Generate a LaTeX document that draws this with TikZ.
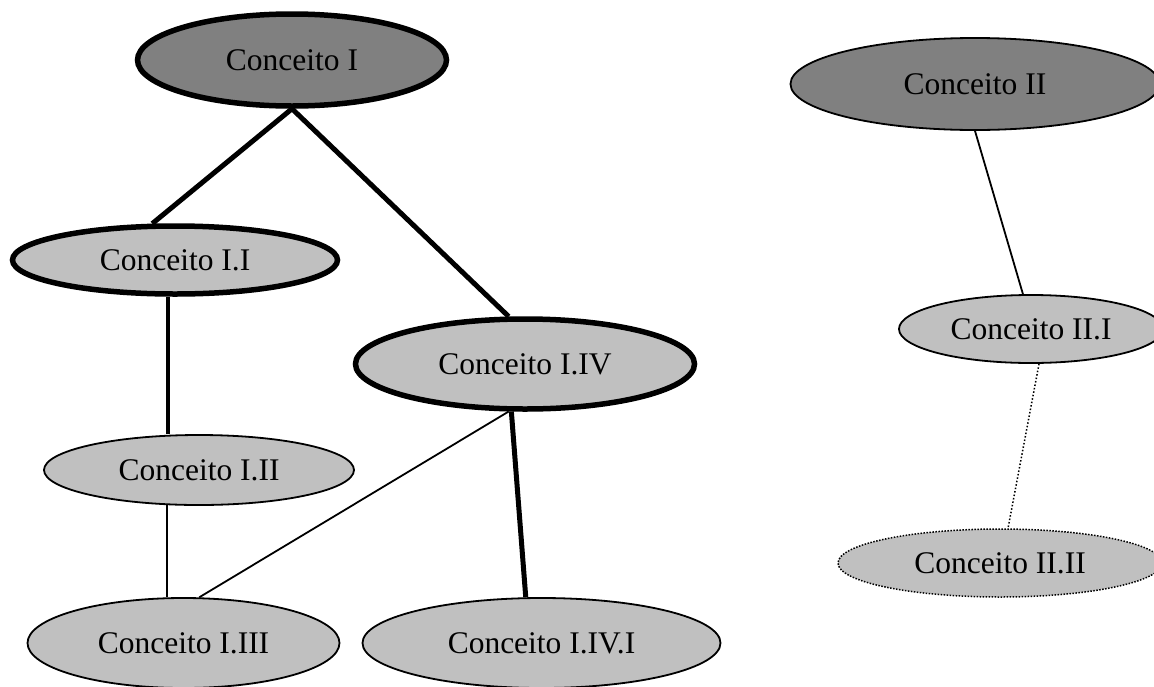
\documentclass[tikz,border=0pt]{standalone}
\usepackage{fontspec}
\setmainfont{Liberation Serif}
\usetikzlibrary{shapes.geometric}
\definecolor{darkfill}{RGB}{128,128,128}
\definecolor{lightfill}{RGB}{192,192,192}
\begin{document}
\begin{tikzpicture}[x=1pt,y=-1pt,
  concept/.style={ellipse, inner sep=0pt, draw=black, font=\fontsize{31.5}{36}\selectfont},
  darkc/.style={concept, fill=darkfill},
  lightc/.style={concept, fill=lightfill},
  heavy/.style={line width=5.5pt},
  normalw/.style={line width=1.8pt},
  dotline/.style={line width=1.5pt, dash pattern=on 1.5pt off 1.5pt},
  thickedge/.style={line width=5pt},
  midedge/.style={line width=3.5pt},
  thinedge/.style={line width=1.8pt}]
\useasboundingbox (0,0) rectangle (1154,686);
\fill[white] (0,0) rectangle (1154,686);
\clip (0,0) rectangle (1154,686);

\node[darkc, heavy, minimum width=309pt, minimum height=92pt] (c1) at (292,60) {Conceito I};
\node[darkc, normalw, minimum width=369pt, minimum height=92pt] (c2) at (975,84) {Conceito II};
\node[lightc, heavy, minimum width=325pt, minimum height=68pt] (c11) at (175,260) {Conceito I.I};
\node[lightc, heavy, minimum width=339pt, minimum height=90pt] (c14) at (525,364) {Conceito I.IV};
\node[lightc, normalw, minimum width=310pt, minimum height=70pt] (c12) at (199,470) {Conceito I.II};
\node[lightc, normalw, minimum width=312pt, minimum height=90pt] (c13) at (183.5,643) {Conceito I.III};
\node[lightc, normalw, minimum width=358pt, minimum height=90pt] (c141) at (541.5,643) {Conceito I.IV.I};
\node[lightc, normalw, minimum width=264pt, minimum height=68pt] (c21) at (1031,329) {Conceito II.I};
\node[lightc, dotline, minimum width=324pt, minimum height=68pt] (c22) at (1000,563) {Conceito II.II};

\draw[thickedge] (c1.south) -- (c11.122);
\draw[thickedge] (c1.south) -- (c14.109);
\draw[midedge] (c11.259) -- (c11.259 |- c12.north);
\draw[thinedge] (c12.228) -- (c12.228 |- c13.north);
\draw[thinedge] (c14.251) -- (c13.71);
\draw[thickedge] (c14.254) -- (c141.109);
\draw[thinedge] (c2.south) -- (c21.103);
\draw[line width=1.5pt, dash pattern=on 1.5pt off 2pt] (c21.283) -- (c22.77);
\end{tikzpicture}
\end{document}
